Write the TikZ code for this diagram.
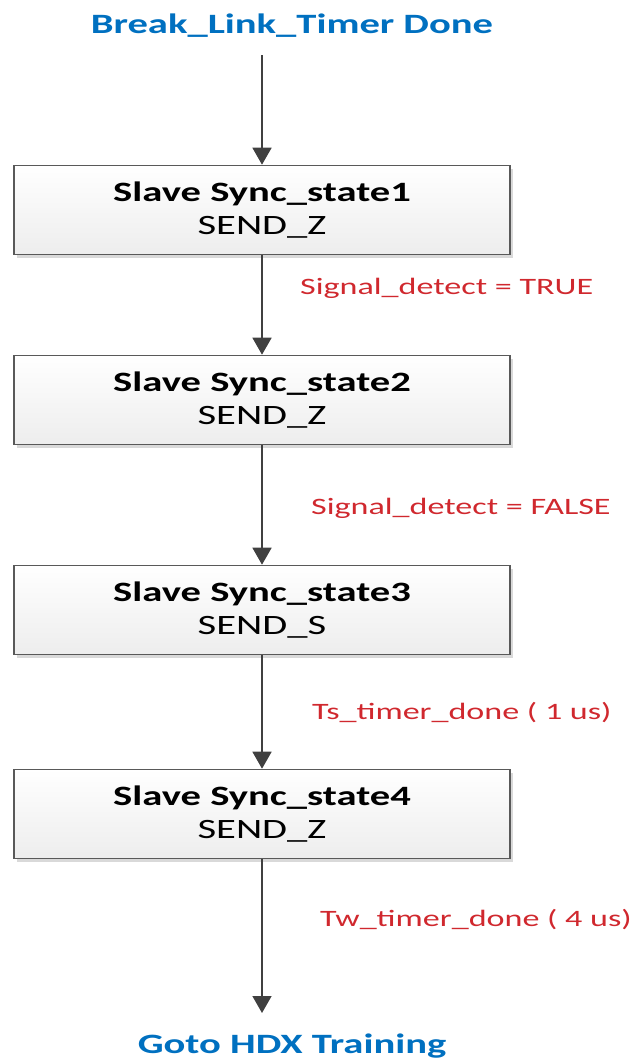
\documentclass[tikz,border=0pt]{standalone}
\usepackage{fontspec}
\setmainfont{Carlito}[FakeStretch=1.45]
\usetikzlibrary{arrows.meta,shadows}
\definecolor{termblue}{RGB}{0,112,192}
\definecolor{condred}{RGB}{208,40,46}
\definecolor{linegray}{RGB}{64,64,64}
\begin{document}
\begin{tikzpicture}[x=1pt,y=-1pt,
	state/.style={draw=black!65, line width=1.6pt, top color=white, bottom color=black!7,
		minimum width=496pt, minimum height=89pt, align=center, inner sep=0pt,
		font=\fontsize{28}{33}\selectfont,
		drop shadow={shadow xshift=3pt, shadow yshift=-3pt, fill=black!25, opacity=0.6}},
	flow/.style={linegray, line width=1.6pt, -{Triangle[width=19pt,length=17pt]}},
	cond/.style={condred, anchor=base west, inner sep=0pt, font=\fontsize{23.5}{26}\selectfont},
	term/.style={termblue, anchor=base, inner sep=0pt, font=\bfseries\fontsize{28}{32}\selectfont}]
				\useasboundingbox (0,0) rectangle (637,1061);
				\node [term] (start) at (292,33) {Break\_Link\_Timer Done};
				\coordinate (in) at (262,55);
				\node [state] (s1) at (262,210) {\textbf{Slave Sync\_state1}\\SEND\_Z};
				\node [state] (s2) at (262,400) {\textbf{Slave Sync\_state2}\\SEND\_Z};
				\node [state] (s3) at (262,610) {\textbf{Slave Sync\_state3}\\SEND\_S};
				\node [state] (s4) at (262,814) {\textbf{Slave Sync\_state4}\\SEND\_Z};
				\coordinate (out) at (262,1013);
				\node [term] (goto) at (292,1053) {Goto HDX Training};
				\draw [flow] (in) -- (s1);
				\draw [flow] (s1) -- (s2);
				\draw [flow] (s2) -- (s3);
				\draw [flow] (s3) -- (s4);
				\draw [flow] (s4) -- (out);
				\node [cond] (c1) at (300,294) {Signal\_detect = TRUE};
				\node [cond] (c2) at (311,514) {Signal\_detect = FALSE};
				\node [cond] (c3) at (312,719) {Ts\_timer\_done ( 1 us)};
				\node [cond] (c4) at (320,926) {Tw\_timer\_done ( 4 us)};
			\end{tikzpicture}
\end{document}
